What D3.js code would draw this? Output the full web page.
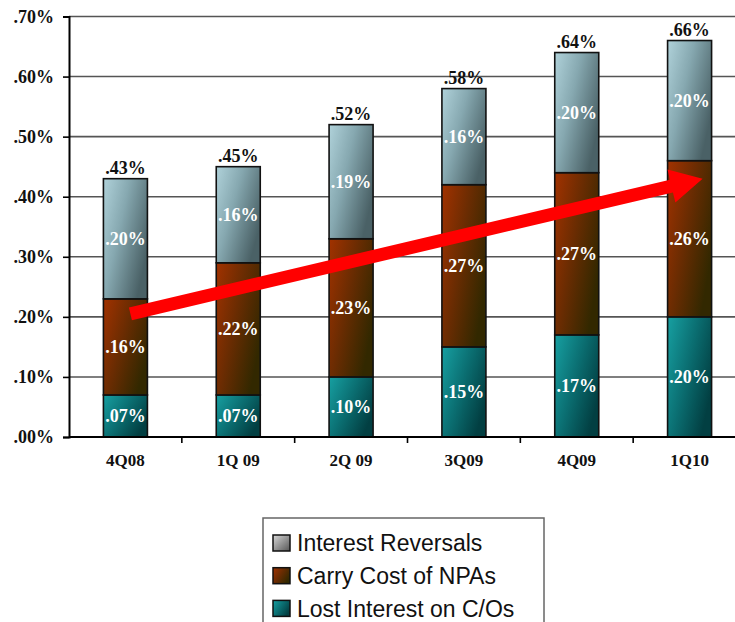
<!DOCTYPE html>
<html lang="en">
<head>
<meta charset="utf-8">
<title>NPA cost chart</title>
<script src="https://cdn.jsdelivr.net/npm/d3@7"></script>
<style>
  body { margin: 0; background: #fff; }
  svg { display: block; }
</style>
</head>
<body>
<script>
// data
var quarters = ["4Q08", "1Q 09", "2Q 09", "3Q09", "4Q09", "1Q10"];
var lostInterest = [0.07, 0.07, 0.10, 0.15, 0.17, 0.20];
var carryCost = [0.16, 0.22, 0.23, 0.27, 0.27, 0.26];
var interestReversals = [0.20, 0.16, 0.19, 0.16, 0.20, 0.20];
var totals = [0.43, 0.45, 0.52, 0.58, 0.64, 0.66];
var seriesNames = ["Interest Reversals", "Carry Cost of NPAs", "Lost Interest on C/Os"];
var yTicks = [0, 0.10, 0.20, 0.30, 0.40, 0.50, 0.60, 0.70];
// trend arrow, in data terms
var arrowFrom = { q: "4Q08", v: 0.205 };
var arrowTo = { q: "1Q10", v: 0.43 };

var w = 735, h = 622;
var padLeft = 69, padBottom = 437, padTop = 16.5;
var serif = "Liberation Serif, Times New Roman, serif";

var svg = d3.select("body").append("svg")
  .attr("width", w)
  .attr("height", h);

var x = d3.scaleBand()
  .domain(quarters)
  .range([padLeft, 746])
  .paddingInner(0.61)
  .paddingOuter(0.305);

var y = d3.scaleLinear()
  .domain([0, 0.70])
  .range([padBottom, padTop]);

var pct = function(d) { return d3.format(".2f")(d).replace(/^0/, "") + "%"; };

// gradients
var defs = svg.append("defs");
function grad(id, stops, y2) {
  var g = defs.append("linearGradient").attr("id", id)
    .attr("x1", 0).attr("y1", 0).attr("x2", 1).attr("y2", y2);
  stops.forEach(function(s) {
    g.append("stop").attr("offset", s[0]).attr("stop-color", s[1]);
  });
}
grad("gRev", [[0, "#b0d2da"], [0.45, "#86a8b0"], [1, "#4a6166"]], 0.6);
grad("gCarry", [[0, "#a23200"], [0.5, "#6a2c02"], [1, "#322800"]], 0.6);
grad("gLost", [[0, "#17a0a2"], [0.5, "#0b7073"], [1, "#023f42"]], 0.6);
grad("gRevL", [[0, "#d8d8d8"], [1, "#555"]], 1);

var fills = { rev: "url(#gRev)", carry: "url(#gCarry)", lost: "url(#gLost)" };

// gridlines
svg.append("g").selectAll("line")
  .data(yTicks.slice(1))
  .enter().append("line")
  .attr("x1", padLeft).attr("x2", w)
  .attr("y1", function(d) { return y(d); })
  .attr("y2", function(d) { return y(d); })
  .attr("stroke", "#555")
  .attr("stroke-width", 1.6);

// y axis
var yAxis = d3.axisLeft(y)
  .tickValues(yTicks)
  .tickSize(6)
  .tickFormat(pct);
var ya = svg.append("g")
  .attr("transform", "translate(" + padLeft + ",0)")
  .call(yAxis);
ya.select(".domain").attr("stroke", "#000").attr("stroke-width", 2);
ya.selectAll(".tick line").attr("stroke", "#000").attr("stroke-width", 1.6);
ya.selectAll("text")
  .attr("font-family", serif)
  .attr("font-weight", "bold")
  .attr("font-size", "18px")
  .attr("fill", "#111")
  .attr("x", -15)
  .attr("dy", "0.33em");

// stacked bars
var rows = quarters.map(function(q, i) {
  return { q: q, lost: lostInterest[i], carry: carryCost[i], rev: interestReversals[i] };
});
var stack = d3.stack().keys(["lost", "carry", "rev"]);
var layers = stack(rows);

var barG = svg.append("g");
layers.forEach(function(layer) {
  barG.selectAll(".b-" + layer.key)
    .data(layer)
    .enter().append("rect")
    .attr("x", function(d) { return x(d.data.q); })
    .attr("y", function(d) { return y(d[1]); })
    .attr("width", x.bandwidth())
    .attr("height", function(d) { return y(d[0]) - y(d[1]); })
    .attr("fill", fills[layer.key])
    .attr("stroke", "#111")
    .attr("stroke-width", 1.6);

  barG.selectAll(".t-" + layer.key)
    .data(layer)
    .enter().append("text")
    .attr("x", function(d) { return x(d.data.q) + x.bandwidth() / 2; })
    .attr("y", function(d) { return (y(d[0]) + y(d[1])) / 2; })
    .attr("dy", "0.35em")
    .attr("text-anchor", "middle")
    .attr("font-family", serif)
    .attr("font-weight", "bold")
    .attr("font-size", "18px")
    .attr("fill", "#fff")
    .text(function(d) { return pct(d[1] - d[0]); });
});

// totals
svg.append("g").selectAll("text")
  .data(totals)
  .enter().append("text")
  .attr("x", function(d, i) { return x(quarters[i]) + x.bandwidth() / 2; })
  .attr("y", function(d) { return y(d) - 5; })
  .attr("text-anchor", "middle")
  .attr("font-family", serif)
  .attr("font-weight", "bold")
  .attr("font-size", "18px")
  .attr("fill", "#111")
  .text(pct);

// x axis
var xa = svg.append("g")
  .attr("transform", "translate(0," + padBottom + ")");
xa.append("line")
  .attr("x1", padLeft).attr("x2", w)
  .attr("stroke", "#000").attr("stroke-width", 2);
var step = x.step();
xa.selectAll(".xt")
  .data(quarters.slice(1))
  .enter().append("line")
  .attr("x1", function(d) { return x(d) - (step - x.bandwidth()) / 2; })
  .attr("x2", function(d) { return x(d) - (step - x.bandwidth()) / 2; })
  .attr("y1", 0).attr("y2", 6)
  .attr("stroke", "#000").attr("stroke-width", 1.6);
xa.selectAll("text")
  .data(quarters)
  .enter().append("text")
  .attr("x", function(d) { return x(d) + x.bandwidth() / 2; })
  .attr("y", 29)
  .attr("text-anchor", "middle")
  .attr("font-family", serif)
  .attr("font-weight", "bold")
  .attr("font-size", "17px")
  .attr("fill", "#111")
  .text(function(d) { return d; });

// trend arrow
var ax1 = x(arrowFrom.q) + x.bandwidth() / 2 + 5, ay1 = y(arrowFrom.v);
var ax2 = x(arrowTo.q) + x.bandwidth() / 2 + 13, ay2 = y(arrowTo.v);
var ang = Math.atan2(ay2 - ay1, ax2 - ax1);
var headLen = 32, headHalf = 17, shaft = 6.5;
var bx = ax2 - headLen * Math.cos(ang), by = ay2 - headLen * Math.sin(ang);
var nx = -Math.sin(ang), ny = Math.cos(ang);
var pts = [
  [ax1 + nx * shaft, ay1 + ny * shaft],
  [bx + nx * shaft, by + ny * shaft],
  [bx + nx * headHalf, by + ny * headHalf],
  [ax2, ay2],
  [bx - nx * headHalf, by - ny * headHalf],
  [bx - nx * shaft, by - ny * shaft],
  [ax1 - nx * shaft, ay1 - ny * shaft]
];
svg.append("polygon")
  .attr("points", pts.map(function(p) { return p.join(","); }).join(" "))
  .attr("fill", "#ff0000");

// legend
var lg = svg.append("g").attr("transform", "translate(263,518)");
lg.append("rect")
  .attr("width", 281).attr("height", 120)
  .attr("fill", "#fff")
  .attr("stroke", "#666").attr("stroke-width", 1.5);
var legFills = ["url(#gRevL)", "url(#gCarry)", "url(#gLost)"];
var li = lg.selectAll(".li")
  .data(seriesNames)
  .enter().append("g")
  .attr("transform", function(d, i) { return "translate(10," + (25 + i * 32.7) + ")"; });
li.append("rect")
  .attr("x", 0).attr("y", -8)
  .attr("width", 17).attr("height", 16)
  .attr("fill", function(d, i) { return legFills[i]; })
  .attr("stroke", "#111").attr("stroke-width", 1.5);
li.append("text")
  .attr("x", 24)
  .attr("dy", "0.36em")
  .attr("font-family", "Liberation Sans, Arial, sans-serif")
  .attr("font-size", "23px")
  .attr("fill", "#111")
  .text(function(d) { return d; });
</script>
</body>
</html>
